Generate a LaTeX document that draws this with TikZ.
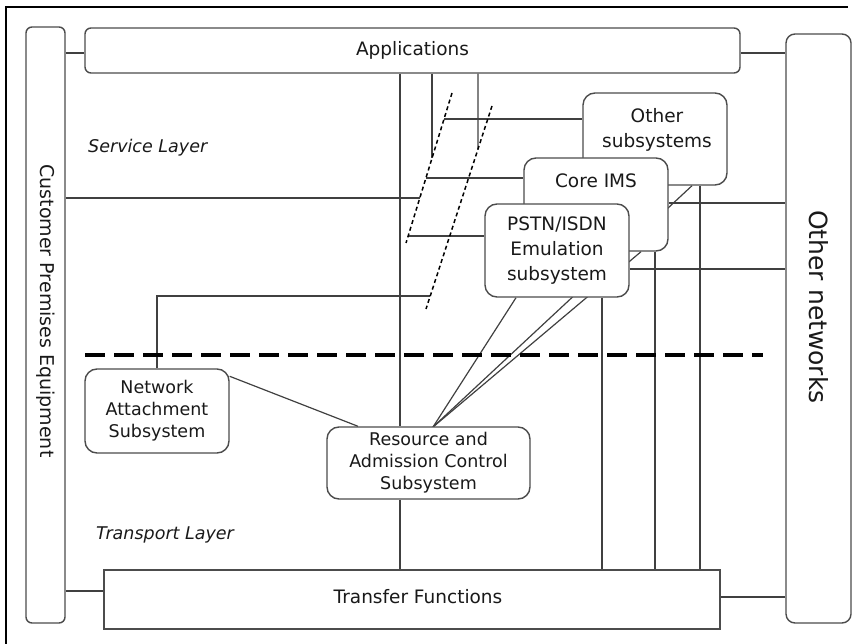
\documentclass[tikz,border=0pt]{standalone}
\usepackage{fontspec}
\setmainfont{DejaVu Sans}
\usetikzlibrary{backgrounds}
\definecolor{linec}{gray}{0.25}
\definecolor{boxc}{gray}{0.3}
\definecolor{txtc}{gray}{0.1}
\begin{document}
\begin{tikzpicture}[x=1pt,y=-1pt,
  ln/.style={draw=linec, line width=1.2pt},
  box/.style={draw=boxc, line width=1.4pt, fill=white, rounded corners=#1, inner sep=0pt, text=txtc, align=center},
  box/.default=12pt,
  sqbox/.style={draw=boxc, line width=1.4pt, fill=white, inner sep=0pt, text=txtc, align=center},
  svc/.style={font=\fontsize{18.5}{25}\selectfont},
  trn/.style={font=\fontsize{17.5}{22}\selectfont},
  lbl/.style={text=txtc, inner sep=0pt, align=center},
  layer/.style={text=txtc, inner sep=0pt, anchor=west, font=\fontsize{17.5}{21}\selectfont\itshape},
  slash/.style={draw=black, line width=1.5pt, dash pattern=on 4pt off 3pt},
  sep/.style={draw=black, line width=4pt, dash pattern=on 20pt off 9pt}
]
\useasboundingbox (0,0) rectangle (858,644);
% outer frame (top and left visible)
\draw[draw=black, line width=1.2pt] (6,644) -- (6,7) -- (848,7);

% boxes
\node[box=6pt, minimum width=39pt, minimum height=596pt] (cpe) at (45.5,325) {};
\node[lbl, rotate=-90, font=\fontsize{19}{23}\selectfont] (cpeT) at (45.5,311) {Customer Premises Equipment};
\node[box=6pt, svc, minimum width=655pt, minimum height=45pt] (apps) at (412.5,50.5) {Applications};
\node[box=9pt, minimum width=65pt, minimum height=589pt] (on) at (818.5,328.5) {};
\node[lbl, rotate=-90, font=\fontsize{25}{30}\selectfont] (onT) at (818.5,307) {Other networks};

\node[box, minimum width=144pt, minimum height=92pt] (other) at (655,139) {};
\node[lbl, svc] (otherT) at (657,130) {Other\\subsystems};
\node[box, minimum width=144pt, minimum height=93pt] (core) at (596,204.5) {};
\node[lbl, svc] (coreT) at (596,181) {Core IMS};
\node[box, svc, minimum width=144pt, minimum height=93pt] (pstn) at (557,250.5) {PSTN/ISDN\\Emulation\\subsystem};

\node[box, trn, minimum width=144pt, minimum height=84pt] (nas) at (157,411) {Network\\Attachment\\Subsystem};
\node[box, trn, minimum width=203pt, minimum height=72pt] (racs) at (428.5,463) {Resource and\\Admission Control\\Subsystem};
\node[sqbox, minimum width=616pt, minimum height=59pt] (tf) at (412,599.5) {};
\node[lbl, svc] (tfT) at (418,597) {Transfer Functions};

\node[layer] (svcL) at (88,148) {Service Layer};
\node[layer] (trnL) at (96,535) {Transport Layer};

% interface slashes
\coordinate (s1a) at (452,93);
\coordinate (s1b) at (406,243);
\coordinate (s2a) at (492,106);
\coordinate (s2b) at (426,309);
\coordinate (rt) at (433,427);

\begin{scope}[on background layer]
  \draw[ln] (cpe.east |- 0,53) -- (apps.west |- 0,53);
  \draw[ln] (apps.east |- 0,53) -- (on.west |- 0,53);
  \draw[ln] (cpe.east |- 0,591) -- (tf.west |- 0,591);
  \draw[ln] (tf.east |- 0,597) -- (on.west |- 0,597);
  \draw[ln] (cpe.east |- 0,198) -- (intersection of s1a--s1b and 0,198--1,198);
  \draw[ln] (nas.north -| 157,0) |- (intersection of s2a--s2b and 0,296--1,296);
  \draw[ln] (apps.south -| 400,0) -- (racs.north -| 400,0);
  \draw[ln] (racs.south -| 400,0) -- (tf.north -| 400,0);
  \draw[ln] (apps.south -| 432,0) -- (intersection of s1a--s1b and 432,0--432,1);
  \draw[ln] (apps.south -| 478,0) -- (intersection of s2a--s2b and 478,0--478,1);
  \draw[ln] (intersection of s1a--s1b and 0,119--1,119) -- (other.west |- 0,119);
  \draw[ln] (intersection of s1a--s1b and 0,178--1,178) -- (core.west |- 0,178);
  \draw[ln] (intersection of s1a--s1b and 0,236--1,236) -- (pstn.west |- 0,236);
  \draw[ln] (core.east |- 0,203) -- (on.west |- 0,203);
  \draw[ln] (pstn.east |- 0,269) -- (on.west |- 0,269);
  \draw[ln] (pstn.south -| 602,0) -- (tf.north -| 602,0);
  \draw[ln] (core.south -| 655,0) -- (tf.north -| 655,0);
  \draw[ln] (other.south -| 700,0) -- (tf.north -| 700,0);
  \draw[ln] ([yshift=-8pt]nas.north east) -- (racs.north -| 358,0);
  \draw[ln] (rt) -- (pstn.south -| 516,0);
  \draw[ln] (rt) -- (core.south -| 641,0);
  \draw[ln] (rt) -- (other.south -| 692,0);
\end{scope}

\draw[slash] (s1a) -- (s1b);
\draw[slash] (s2a) -- (s2b);
\coordinate (sepL) at (85,355);
\coordinate (sepR) at (763,355);
\draw[sep] (sepL) -- (sepR);
\end{tikzpicture}
\end{document}
